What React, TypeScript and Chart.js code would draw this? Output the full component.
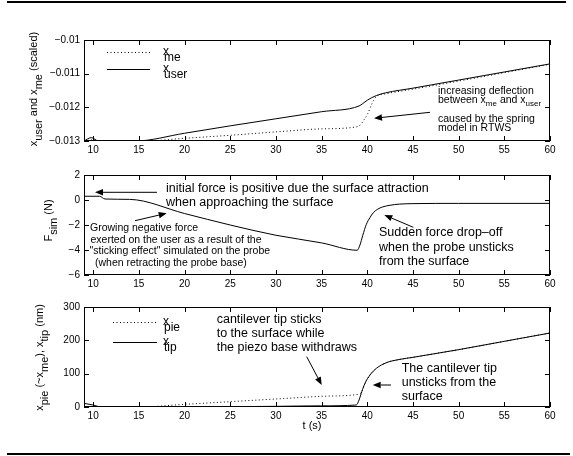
import React, { useEffect, useRef } from "react";
import { Chart, registerables } from "chart.js";
Chart.register(...registerables);

const FONT = '"Liberation Sans", Arial, Helvetica, sans-serif';

// shared time axis
const timeTicks = [10, 15, 20, 25, 30, 35, 40, 45, 50, 55, 60];
const tMin = 9;
const tMax = 60;

// Panel 1: x_user and x_me (scaled)
const tUser = [9, 9.8, 10.6, 12, 14.6, 20, 25, 30, 35, 39.1, 39.5, 40, 40.5, 41, 42, 45, 50, 55, 60];
const vUser = [-0.013, -0.0129, -0.013, -0.013, -0.013, -0.01277, -0.01255, -0.01234, -0.01213, -0.01196, -0.01189, -0.01179, -0.01171, -0.01165, -0.01157, -0.01143, -0.01119, -0.01095, -0.01071];
const tMe = [9, 10, 11, 15.5, 20, 25, 30, 35, 39, 39.3, 39.6, 40, 40.5, 41, 42, 45, 50, 55, 60];
const vMe = [-0.01299, -0.01297, -0.013, -0.013, -0.01292, -0.01283, -0.01273, -0.01264, -0.01257, -0.0125, -0.01239, -0.01222, -0.0119, -0.01168, -0.0116, -0.01146, -0.01122, -0.01097, -0.01072];
const p1Ticks = [-0.013, -0.012, -0.011, -0.01];

// Panel 2: F_sim (N)
const tF = [9, 10.7, 11.3, 14, 20, 25, 30, 35, 38.9, 39.2, 39.5, 39.9, 40.3, 40.65, 41.1, 41.7, 42.5, 43.5, 45, 50, 60];
const vF = [0.3, 0.3, 0.08, 0.05, -1.08, -2.0, -2.82, -3.43, -4.02, -3.6, -2.85, -1.95, -1.4, -1.03, -0.75, -0.55, -0.42, -0.33, -0.29, -0.27, -0.27];
const p2Ticks = [-6, -4, -2, 0, 2];

// Panel 3: x_pie, x_tip (nm)
const tTip = [9, 10, 10.9, 15, 20, 25, 30, 35, 38.8, 39.1, 39.4, 39.75, 40.3, 41, 42.1, 43.6, 45, 50, 55, 60];
const vTip = [11, 6, 0, 0, 0.5, 1, 2, 3.5, 6, 21, 46, 71, 96, 116, 133, 143, 149, 172, 197, 222];
const tPie = [9, 15, 20, 25, 30, 35, 39, 39.2, 39.4, 39.75, 40.3, 41, 42.1, 43.6, 45, 50, 55, 60];
const vPie = [0, 0, 8, 16, 24, 32, 38, 40, 46, 71, 96, 116, 133, 143, 149, 172, 197, 222];
const p3Ticks = [0, 100, 200, 300];

type Seg = { t: string; sub?: boolean };
function S(s: string): Seg[] {
  const out: Seg[] = [];
  const re = /_\{([^}]*)\}/g;
  let last = 0;
  let m: RegExpExecArray | null;
  while ((m = re.exec(s))) {
    if (m.index > last) out.push({ t: s.slice(last, m.index) });
    out.push({ t: m[1], sub: true });
    last = m.index + m[0].length;
  }
  if (last < s.length) out.push({ t: s.slice(last) });
  return out;
}

function drawRich(ctx: CanvasRenderingContext2D, x: number, y: number, text: string, size: number, subSize: number, subDy: number, align: "left" | "center" = "left") {
  const segs = S(text);
  const mf = `${size}px ${FONT}`;
  const sf = `${subSize}px ${FONT}`;
  let total = 0;
  const ws = segs.map((s) => {
    ctx.font = s.sub ? sf : mf;
    const w = ctx.measureText(s.t).width;
    total += w;
    return w;
  });
  let cx = align === "center" ? x - total / 2 : x;
  ctx.textAlign = "left";
  ctx.textBaseline = "middle";
  ctx.fillStyle = "#000";
  segs.forEach((s, i) => {
    ctx.font = s.sub ? sf : mf;
    ctx.fillText(s.t, cx, s.sub ? y + subDy : y);
    cx += ws[i];
  });
}

function drawYTitle(ctx: CanvasRenderingContext2D, x: number, y: number, text: string, size: number, subDy: number) {
  ctx.save();
  ctx.translate(x, y);
  ctx.rotate(-Math.PI / 2);
  drawRich(ctx, 0, 0, text, size, size, subDy, "center");
  ctx.restore();
}

function text(ctx: CanvasRenderingContext2D, x: number, y: number, s: string, size: number) {
  ctx.font = `${size}px ${FONT}`;
  ctx.textAlign = "left";
  ctx.textBaseline = "middle";
  ctx.fillStyle = "#000";
  ctx.fillText(s, x, y);
}

function arrow(ctx: CanvasRenderingContext2D, x1: number, y1: number, x2: number, y2: number) {
  const a = Math.atan2(y2 - y1, x2 - x1);
  const L = 8, W = 3.2;
  const bx = x2 - L * Math.cos(a), by = y2 - L * Math.sin(a);
  ctx.strokeStyle = "#000";
  ctx.fillStyle = "#000";
  ctx.lineWidth = 1;
  ctx.setLineDash([]);
  ctx.beginPath();
  ctx.moveTo(x1, y1);
  ctx.lineTo(bx, by);
  ctx.stroke();
  ctx.beginPath();
  ctx.moveTo(x2, y2);
  ctx.lineTo(bx + W * Math.sin(a), by - W * Math.cos(a));
  ctx.lineTo(bx - W * Math.sin(a), by + W * Math.cos(a));
  ctx.closePath();
  ctx.fill();
}

function legendEntry(ctx: CanvasRenderingContext2D, x1: number, x2: number, y: number, dotted: boolean, sub: string, tx: number) {
  ctx.strokeStyle = "#000";
  ctx.lineWidth = 1;
  ctx.setLineDash(dotted ? [1, 2.5] : []);
  ctx.beginPath();
  ctx.moveTo(x1, y + 0.5);
  ctx.lineTo(x2, y + 0.5);
  ctx.stroke();
  ctx.setLineDash([]);
  text(ctx, tx, y - 0.5, "x", 12);
  text(ctx, tx + 1, y + 6, sub, 12);
}

function drawP1(ctx: CanvasRenderingContext2D) {
  drawYTitle(ctx, 34, 89, "x_{user} and x_{me} (scaled)", 11, 5);
  legendEntry(ctx, 107, 150, 52, true, "me", 163);
  legendEntry(ctx, 107, 150, 69, false, "user", 163);
  text(ctx, 438, 90.7, "increasing deflection", 10.5);
  drawRich(ctx, 438, 100, "between x_{me} and x_{user}", 10.5, 8, 4);
  text(ctx, 438, 119, "caused by the spring", 10.5);
  text(ctx, 438, 128.3, "model in RTWS", 10.5);
  arrow(ctx, 430, 112.3, 374, 118.3);
}

function drawP2(ctx: CanvasRenderingContext2D) {
  drawYTitle(ctx, 49, 220.5, "F_{sim} (N)", 11, 4.5);
  text(ctx, 166, 188.3, "initial force is positive due the surface attraction", 12.5);
  text(ctx, 166, 202.7, "when approaching the surface", 12.5);
  arrow(ctx, 157, 192.3, 95, 192.3);
  text(ctx, 90, 228.3, "Growing negative force", 10.5);
  text(ctx, 90.5, 240, "exerted on the user as a result of the", 10.5);
  text(ctx, 89.5, 251.3, "\"sticking effect\" simulated on the probe", 10.5);
  text(ctx, 95, 263.3, "(when retracting the probe base)", 10.5);
  arrow(ctx, 135, 220.7, 166.7, 213.3);
  text(ctx, 379, 232.3, "Sudden force drop\u2013off", 12.5);
  text(ctx, 379, 247.3, "when the probe unsticks", 12.5);
  text(ctx, 379, 261.7, "from the surface", 12.5);
  arrow(ctx, 413.3, 227.3, 384.3, 215);
}

function drawP3(ctx: CanvasRenderingContext2D) {
  drawYTitle(ctx, 40, 357.5, "x_{pie} (~x_{me}), x_{tip} (nm)", 11, 5);
  legendEntry(ctx, 113, 157, 322, true, "pie", 163);
  legendEntry(ctx, 113, 157, 342, false, "tip", 163);
  text(ctx, 216.7, 319.3, "cantilever tip sticks", 12.5);
  text(ctx, 216.7, 333.3, "to the surface while", 12.5);
  text(ctx, 216.7, 347.7, "the piezo base withdraws", 12.5);
  arrow(ctx, 306.7, 356.7, 321.7, 385);
  text(ctx, 401.7, 369, "The cantilever tip", 12.5);
  text(ctx, 401.7, 382.7, "unsticks from the", 12.5);
  text(ctx, 401.7, 396.7, "surface", 12.5);
  arrow(ctx, 391, 385, 372.7, 385);
  ctx.font = `11px ${FONT}`;
  ctx.textAlign = "center";
  ctx.textBaseline = "middle";
  ctx.fillText("t (s)", 312, 426);
}

type Series = { t: number[]; v: number[]; dotted: boolean };
type PanelCfg = {
  top: number;
  height: number;
  plotTop: number;
  plotBottom: number;
  yMin: number;
  yMax: number;
  yTicks: number[];
  series: Series[];
  extras: (ctx: CanvasRenderingContext2D) => void;
};

const panels: PanelCfg[] = [
  {
    top: 0, height: 165, plotTop: 40, plotBottom: 141,
    yMin: -0.013, yMax: -0.01, yTicks: p1Ticks,
    series: [
      { t: tMe, v: vMe, dotted: true },
      { t: tUser, v: vUser, dotted: false },
    ],
    extras: drawP1,
  },
  {
    top: 165, height: 130, plotTop: 173, plotBottom: 275,
    yMin: -6, yMax: 2, yTicks: p2Ticks,
    series: [{ t: tF, v: vF, dotted: false }],
    extras: drawP2,
  },
  {
    top: 295, height: 161, plotTop: 307, plotBottom: 407,
    yMin: 0, yMax: 300, yTicks: p3Ticks,
    series: [
      { t: tPie, v: vPie, dotted: true },
      { t: tTip, v: vTip, dotted: false },
    ],
    extras: drawP3,
  },
];

const fmt = (v: number) => String(v).replace("-", "\u2212");

function Panel({ cfg }: { cfg: PanelCfg }) {
  const ref = useRef<HTMLCanvasElement>(null);
  useEffect(() => {
    const relTop = cfg.plotTop - cfg.top;
    const relBottom = cfg.plotBottom - cfg.top;
    const frame = {
      id: "frame",
      afterDraw(chart: any) {
        const ctx: CanvasRenderingContext2D = chart.ctx;
        const a = chart.chartArea;
        const xs = chart.scales.x;
        const ys = chart.scales.y;
        ctx.save();
        ctx.strokeStyle = "#000";
        ctx.lineWidth = 1;
        ctx.setLineDash([]);
        ctx.strokeRect(a.left + 0.5, a.top + 0.5, a.right - a.left - 1, a.bottom - a.top - 1);
        const TL = 5;
        ctx.beginPath();
        timeTicks.forEach((v) => {
          const px = Math.round(xs.getPixelForValue(v)) + 0.5;
          ctx.moveTo(px, a.bottom);
          ctx.lineTo(px, a.bottom - TL);
          ctx.moveTo(px, a.top);
          ctx.lineTo(px, a.top + TL);
        });
        cfg.yTicks.forEach((v) => {
          const py = Math.round(ys.getPixelForValue(v)) + 0.5;
          ctx.moveTo(a.left, py);
          ctx.lineTo(a.left + TL, py);
          ctx.moveTo(a.right, py);
          ctx.lineTo(a.right - TL, py);
        });
        ctx.stroke();
        ctx.translate(0, -cfg.top);
        cfg.extras(ctx);
        ctx.restore();
      },
    };
    const chart = new Chart(ref.current!, {
      type: "line",
      data: {
        datasets: cfg.series.map((s) => ({
          data: s.t.map((t, i) => ({ x: t, y: s.v[i] })),
          borderColor: "#000",
          borderWidth: 1,
          borderDash: s.dotted ? [1, 2.5] : [],
          pointRadius: 0,
          fill: false,
          cubicInterpolationMode: "monotone" as const,
        })),
      },
      options: {
        animation: false,
        responsive: false,
        devicePixelRatio: 1,
        events: [],
        layout: { padding: { left: 0, right: 23, top: relTop, bottom: 0 } },
        plugins: { legend: { display: false }, tooltip: { enabled: false } },
        scales: {
          x: {
            type: "linear",
            min: tMin,
            max: tMax,
            grid: { display: false, drawTicks: false },
            border: { display: false },
            afterBuildTicks: (sc: any) => {
              sc.ticks = timeTicks.map((v) => ({ value: v }));
            },
            afterFit: (sc: any) => {
              sc.height = cfg.height - relBottom;
            },
            ticks: {
              autoSkip: false,
              maxRotation: 0,
              padding: 3,
              color: "#000",
              font: { family: FONT, size: 10 },
              callback: (v: any) => fmt(Number(v)),
            },
          },
          y: {
            type: "linear",
            min: cfg.yMin,
            max: cfg.yMax,
            grid: { display: false, drawTicks: false },
            border: { display: false },
            afterBuildTicks: (sc: any) => {
              sc.ticks = cfg.yTicks.map((v) => ({ value: v }));
            },
            afterFit: (sc: any) => {
              sc.width = 84;
            },
            ticks: {
              autoSkip: false,
              padding: 4,
              color: "#000",
              font: { family: FONT, size: 10 },
              callback: (v: any) => fmt(Number(v)),
            },
          },
        },
      },
      plugins: [frame],
    } as any);
    return () => chart.destroy();
  }, []);
  return (
    <canvas
      ref={ref}
      width={573}
      height={cfg.height}
      style={{ position: "absolute", left: 0, top: cfg.top, width: 573, height: cfg.height }}
    />
  );
}

export default function App() {
  return (
    <div style={{ position: "fixed", left: 0, top: 0, width: 573, height: 456, background: "#fff", overflow: "hidden" }}>
      {panels.map((p, i) => (
        <Panel key={i} cfg={p} />
      ))}
      <div style={{ position: "absolute", left: 7, top: 1, width: 559, height: 2, background: "#000" }} />
      <div style={{ position: "absolute", left: 7, top: 453, width: 563, height: 2, background: "#000" }} />
    </div>
  );
}
